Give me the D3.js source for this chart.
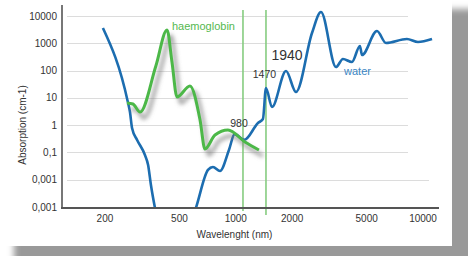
<!DOCTYPE html>
<html><head><meta charset="utf-8">
<script src="https://cdn.jsdelivr.net/npm/d3@7"></script>
<style>html,body{margin:0;padding:0;background:#fff;overflow:hidden}</style>
</head><body><svg id="c" width="468" height="256"></svg>
<script>
// ---- data ----
const waterWavelength = [195, 265, 272, 279, 297, 327, 340, 352, 370, 473, 612, 710, 755, 823, 919, 985, 1110, 1313, 1396, 1449, 1560, 1854, 2096, 2552, 2851, 3428, 3735, 4170, 4603, 4720, 5675, 6340, 8200, 9400, 11170];
const waterAbsorption = [3630, 7.06, 3.03, 0.79, 0.286, 0.0806, 0.0347, 0.0064, 0.00092, 0.00001, 0.00092, 0.0228, 0.0293, 0.0209, 0.123, 0.47, 0.29, 1.2, 1.68, 23, 4.63, 96.5, 16.4, 2383, 14000, 135, 266, 206, 796, 372, 2820, 1026, 1436, 1115, 1436];
const hbWavelength = [262, 282, 308, 374, 429, 456, 485, 569, 644, 684, 774, 908, 1119, 1329];
const hbAbsorption = [6.5, 5.96, 3.03, 147, 3070, 206, 10.8, 27.2, 1.55, 0.134, 0.436, 0.665, 0.241, 0.123];
const yTickValues = [0.001, 0.01, 0.1, 1, 10, 100, 1000, 10000];
const yTickLabels = ["0,001", "0,001", "0,1", "1", "10", "100", "1000", "10000"];
const xTickValues = [200, 500, 1000, 2000, 5000, 10000];
const xTickLabels = ["200", "500", "1000", "2000", "5000", "10000"];
const markerWavelengths = [1092, 1449];
const annotationTexts = ["980", "1470", "1940"];
const annotationWavelengths = [1040, 1422, 1876];
const annotationAbsorptions = [0.857, 53.5, 244];

// ---- layout ----
const svg = d3.select("#c");
const x = d3.scaleLog().domain([117.9, 12170]).range([62, 439]);
const y = d3.scaleLog().domain([0.001, 10000]).range([207, 16]);
const blue = "#1c6db0", green = "#4cb848";
const font = "'Liberation Sans', Arial, Helvetica, sans-serif";

const defs = svg.append("defs");
defs.append("filter").attr("id", "cardShadow").attr("x", "-10%").attr("y", "-10%").attr("width", "130%").attr("height", "130%")
  .append("feGaussianBlur").attr("stdDeviation", 3);
defs.append("filter").attr("id", "lineShadow").attr("x", "-20%").attr("y", "-20%").attr("width", "140%").attr("height", "140%")
  .append("feGaussianBlur").attr("stdDeviation", 2.2);
defs.append("clipPath").attr("id", "plotClip").append("rect")
  .attr("x", 62).attr("y", 0).attr("width", 400).attr("height", 208);

// card + shadow
svg.append("rect").attr("x", 14).attr("y", 9).attr("width", 470).attr("height", 260)
  .attr("fill", "#999").attr("filter", "url(#cardShadow)");
svg.append("rect").attr("x", 0).attr("y", 0).attr("width", 452).attr("height", 246).attr("fill", "#fff");

// gridlines
svg.append("g").selectAll("line").data(yTickValues.slice(1)).join("line")
  .attr("x1", 67).attr("x2", (d, i) => i === 0 ? 429 : 408)
  .attr("y1", d => Math.round(y(d)) + 0.5).attr("y2", d => Math.round(y(d)) + 0.5)
  .attr("stroke", "#dcdcdc").attr("stroke-width", 1);

// y tick labels
svg.append("g").selectAll("text").data(yTickValues).join("text")
  .attr("x", 57).attr("y", d => y(d) + 3.5)
  .attr("text-anchor", "end").attr("font-family", font).attr("font-size", 10).attr("fill", "#333")
  .text((d, i) => yTickLabels[i]);

// x tick labels
svg.append("g").selectAll("text").data(xTickValues).join("text")
  .attr("x", d => x(d)).attr("y", 221.5)
  .attr("text-anchor", "middle").attr("font-family", font).attr("font-size", 10).attr("fill", "#333")
  .text((d, i) => xTickLabels[i]);

// axis titles
svg.append("text").attr("x", 234.5).attr("y", 237.5).attr("text-anchor", "middle")
  .attr("font-family", font).attr("font-size", 10).attr("fill", "#333").text("Wavelenght (nm)");
svg.append("text").attr("transform", "translate(26,125) rotate(-90)").attr("text-anchor", "middle")
  .attr("font-family", font).attr("font-size", 10).attr("fill", "#333").text("Absorption (cm-1)");

// marker lines
svg.append("g").selectAll("line").data(markerWavelengths).join("line")
  .attr("x1", d => x(d)).attr("x2", d => x(d)).attr("y1", 10).attr("y2", (d, i) => i === 0 ? 211 : 215)
  .attr("stroke", "#86cc80").attr("stroke-width", 1.6);

const line = d3.line().curve(d3.curveMonotoneX).x(d => x(d[0])).y(d => y(d[1]));
const waterData = waterWavelength.map((w, i) => [w, waterAbsorption[i]]);
const hbData = hbWavelength.map((w, i) => [w, hbAbsorption[i]]);

// water line
svg.append("path").attr("d", line(waterData)).attr("clip-path", "url(#plotClip)")
  .attr("fill", "none").attr("stroke", blue).attr("stroke-width", 2.6).attr("stroke-linejoin", "round");

// haemoglobin shadow + line
svg.append("path").attr("d", line(hbData)).attr("transform", "translate(4,6)")
  .attr("fill", "none").attr("stroke", "#777").attr("stroke-opacity", 0.7).attr("stroke-width", 3.5)
  .attr("filter", "url(#lineShadow)");
svg.append("path").attr("d", line(hbData))
  .attr("fill", "none").attr("stroke", green).attr("stroke-width", 3).attr("stroke-linejoin", "round");

// axes lines
svg.append("line").attr("x1", 62).attr("x2", 62).attr("y1", 5).attr("y2", 209)
  .attr("stroke", "#777").attr("stroke-width", 2);
svg.append("line").attr("x1", 61).attr("x2", 439).attr("y1", 208).attr("y2", 208)
  .attr("stroke", "#555").attr("stroke-width", 2);

// annotations
svg.append("g").selectAll("text").data(annotationTexts).join("text")
  .attr("x", (d, i) => x(annotationWavelengths[i])).attr("y", (d, i) => y(annotationAbsorptions[i]))
  .attr("text-anchor", "middle").attr("font-family", font)
  .attr("font-size", (d, i) => i === 2 ? 14 : 10.5).attr("fill", "#333")
  .text(d => d);

svg.append("text").attr("x", x(456)).attr("y", y(3070)).attr("font-family", font).attr("font-size", 11)
  .attr("fill", "#55b84f").text("haemoglobin");
svg.append("text").attr("x", x(3784)).attr("y", y(68.9)).attr("font-family", font).attr("font-size", 11)
  .attr("fill", "#3a86c4").text("water");
</script></body></html>
